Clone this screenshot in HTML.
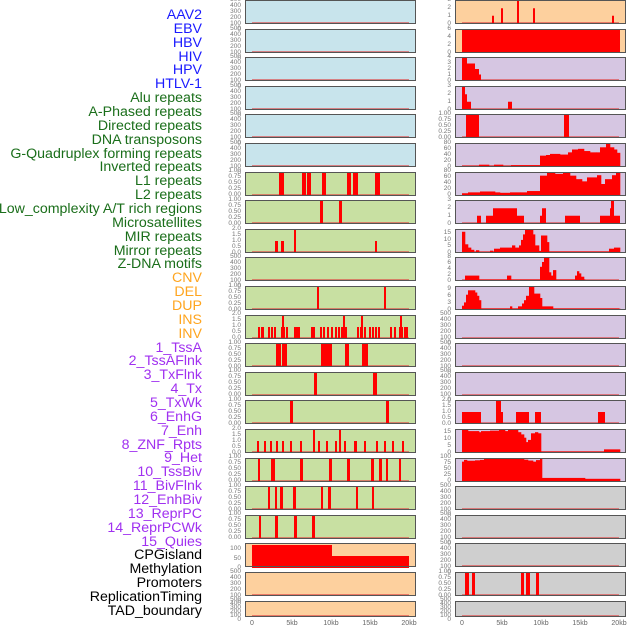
<!DOCTYPE html>
<html><head><meta charset="utf-8"><style>
body{margin:0;width:630px;height:630px;background:#fff;position:relative;overflow:hidden;font-family:"Liberation Sans",sans-serif}
.l{position:absolute;right:428px;font-size:14.2px;line-height:14px;white-space:nowrap}
.b{color:#1a1aff}.g{color:#1a6e1a}.o{color:#ffa51f}.p{color:#a030f0}.k{color:#000}
.t{position:absolute;width:40px;display:flex;flex-direction:column;justify-content:space-between;text-align:right;font-size:6.5px;line-height:6px;color:#777}
.x{position:absolute;top:620px;font-size:7px;color:#666;transform:translateX(-50%)}
svg{position:absolute;left:0;top:0}
</style></head><body>
<div class="l b" style="top:8px">AAV2</div>
<div class="l b" style="top:22px">EBV</div>
<div class="l b" style="top:36px">HBV</div>
<div class="l b" style="top:50px">HIV</div>
<div class="l b" style="top:63px">HPV</div>
<div class="l b" style="top:77px">HTLV-1</div>
<div class="l g" style="top:91px">Alu repeats</div>
<div class="l g" style="top:105px">A-Phased repeats</div>
<div class="l g" style="top:119px">Directed repeats</div>
<div class="l g" style="top:133px">DNA transposons</div>
<div class="l g" style="top:147px">G-Quadruplex forming repeats</div>
<div class="l g" style="top:160px">Inverted repeats</div>
<div class="l g" style="top:174px">L1 repeats</div>
<div class="l g" style="top:188px">L2 repeats</div>
<div class="l g" style="top:202px">Low_complexity A/T rich regions</div>
<div class="l g" style="top:216px">Microsatellites</div>
<div class="l g" style="top:230px">MIR repeats</div>
<div class="l g" style="top:244px">Mirror repeats</div>
<div class="l g" style="top:257px">Z-DNA motifs</div>
<div class="l o" style="top:271px">CNV</div>
<div class="l o" style="top:285px">DEL</div>
<div class="l o" style="top:299px">DUP</div>
<div class="l o" style="top:313px">INS</div>
<div class="l o" style="top:327px">INV</div>
<div class="l p" style="top:341px">1_TssA</div>
<div class="l p" style="top:354px">2_TssAFlnk</div>
<div class="l p" style="top:368px">3_TxFlnk</div>
<div class="l p" style="top:382px">4_Tx</div>
<div class="l p" style="top:396px">5_TxWk</div>
<div class="l p" style="top:410px">6_EnhG</div>
<div class="l p" style="top:424px">7_Enh</div>
<div class="l p" style="top:438px">8_ZNF_Rpts</div>
<div class="l p" style="top:451px">9_Het</div>
<div class="l p" style="top:465px">10_TssBiv</div>
<div class="l p" style="top:479px">11_BivFlnk</div>
<div class="l p" style="top:493px">12_EnhBiv</div>
<div class="l p" style="top:507px">13_ReprPC</div>
<div class="l p" style="top:521px">14_ReprPCWk</div>
<div class="l p" style="top:535px">15_Quies</div>
<div class="l k" style="top:548px">CPGisland</div>
<div class="l k" style="top:562px">Methylation</div>
<div class="l k" style="top:576px">Promoters</div>
<div class="l k" style="top:590px">ReplicationTiming</div>
<div class="l k" style="top:604px">TAD_boundary</div>

<svg id="s" width="630" height="630"></svg>

<div class="t" style="left:201px;top:-3px;height:30px"><span>500</span><span>400</span><span>300</span><span>200</span><span>100</span><span>0</span></div>
<div class="t" style="left:201px;top:26px;height:30px"><span>500</span><span>400</span><span>300</span><span>200</span><span>100</span><span>0</span></div>
<div class="t" style="left:201px;top:54px;height:30px"><span>500</span><span>400</span><span>300</span><span>200</span><span>100</span><span>0</span></div>
<div class="t" style="left:201px;top:83px;height:30px"><span>500</span><span>400</span><span>300</span><span>200</span><span>100</span><span>0</span></div>
<div class="t" style="left:201px;top:111px;height:30px"><span>500</span><span>400</span><span>300</span><span>200</span><span>100</span><span>0</span></div>
<div class="t" style="left:201px;top:140px;height:30px"><span>500</span><span>400</span><span>300</span><span>200</span><span>100</span><span>0</span></div>
<div class="t" style="left:201px;top:168px;height:30px"><span>1.00</span><span>0.75</span><span>0.50</span><span>0.25</span><span>0.00</span></div>
<div class="t" style="left:201px;top:197px;height:30px"><span>1.00</span><span>0.75</span><span>0.50</span><span>0.25</span><span>0.00</span></div>
<div class="t" style="left:201px;top:226px;height:30px"><span>2.0</span><span>1.5</span><span>1.0</span><span>0.5</span><span>0.0</span></div>
<div class="t" style="left:201px;top:254px;height:30px"><span>500</span><span>400</span><span>300</span><span>200</span><span>100</span><span>0</span></div>
<div class="t" style="left:201px;top:283px;height:30px"><span>1.00</span><span>0.75</span><span>0.50</span><span>0.25</span><span>0.00</span></div>
<div class="t" style="left:201px;top:311px;height:30px"><span>2.0</span><span>1.5</span><span>1.0</span><span>0.5</span><span>0.0</span></div>
<div class="t" style="left:201px;top:340px;height:30px"><span>1.00</span><span>0.75</span><span>0.50</span><span>0.25</span><span>0.00</span></div>
<div class="t" style="left:201px;top:368px;height:30px"><span>1.00</span><span>0.75</span><span>0.50</span><span>0.25</span><span>0.00</span></div>
<div class="t" style="left:201px;top:397px;height:30px"><span>1.00</span><span>0.75</span><span>0.50</span><span>0.25</span><span>0.00</span></div>
<div class="t" style="left:201px;top:426px;height:30px"><span>2.0</span><span>1.5</span><span>1.0</span><span>0.5</span><span>0.0</span></div>
<div class="t" style="left:201px;top:454px;height:30px"><span>1.00</span><span>0.75</span><span>0.50</span><span>0.25</span><span>0.00</span></div>
<div class="t" style="left:201px;top:483px;height:30px"><span>1.00</span><span>0.75</span><span>0.50</span><span>0.25</span><span>0.00</span></div>
<div class="t" style="left:201px;top:511px;height:30px"><span>1.00</span><span>0.75</span><span>0.50</span><span>0.25</span><span>0.00</span></div>
<div class="t" style="left:201px;top:546px;height:25px"><span>100</span><span>50</span><span>0</span></div>
<div class="t" style="left:201px;top:569px;height:30px"><span>500</span><span>400</span><span>300</span><span>200</span><span>100</span><span>0</span></div>
<div class="t" style="left:201px;top:598px;height:20px;line-height:4px"><span>500</span><span>400</span><span>300</span><span>200</span><span>100</span><span>0</span></div>
<div class="t" style="left:411px;top:-3px;height:30px"><span>3</span><span>2</span><span>1</span><span>0</span></div>
<div class="t" style="left:411px;top:26px;height:30px"><span>6</span><span>4</span><span>2</span><span>0</span></div>
<div class="t" style="left:411px;top:54px;height:30px"><span>4</span><span>3</span><span>2</span><span>1</span><span>0</span></div>
<div class="t" style="left:411px;top:83px;height:30px"><span>3</span><span>2</span><span>1</span><span>0</span></div>
<div class="t" style="left:411px;top:111px;height:30px"><span>1.00</span><span>0.75</span><span>0.50</span><span>0.25</span><span>0.00</span></div>
<div class="t" style="left:411px;top:140px;height:30px"><span>80</span><span>60</span><span>40</span><span>20</span><span>0</span></div>
<div class="t" style="left:411px;top:168px;height:30px"><span>80</span><span>60</span><span>40</span><span>20</span><span>0</span></div>
<div class="t" style="left:411px;top:197px;height:30px"><span>3</span><span>2</span><span>1</span><span>0</span></div>
<div class="t" style="left:411px;top:230px;height:26px"><span>15</span><span>10</span><span>5</span><span>0</span></div>
<div class="t" style="left:411px;top:254px;height:30px"><span>8</span><span>6</span><span>4</span><span>2</span><span>0</span></div>
<div class="t" style="left:411px;top:286px;height:27px"><span>9</span><span>6</span><span>3</span><span>0</span></div>
<div class="t" style="left:411px;top:311px;height:30px"><span>500</span><span>400</span><span>300</span><span>200</span><span>100</span><span>0</span></div>
<div class="t" style="left:411px;top:340px;height:30px"><span>500</span><span>400</span><span>300</span><span>200</span><span>100</span><span>0</span></div>
<div class="t" style="left:411px;top:368px;height:30px"><span>500</span><span>400</span><span>300</span><span>200</span><span>100</span><span>0</span></div>
<div class="t" style="left:411px;top:397px;height:30px"><span>2.0</span><span>1.5</span><span>1.0</span><span>0.5</span><span>0.0</span></div>
<div class="t" style="left:411px;top:429px;height:27px"><span>15</span><span>10</span><span>5</span><span>0</span></div>
<div class="t" style="left:411px;top:454px;height:30px"><span>100</span><span>75</span><span>50</span><span>25</span><span>0</span></div>
<div class="t" style="left:411px;top:483px;height:30px"><span>500</span><span>400</span><span>300</span><span>200</span><span>100</span><span>0</span></div>
<div class="t" style="left:411px;top:511px;height:30px"><span>500</span><span>400</span><span>300</span><span>200</span><span>100</span><span>0</span></div>
<div class="t" style="left:411px;top:540px;height:30px"><span>500</span><span>400</span><span>300</span><span>200</span><span>100</span><span>0</span></div>
<div class="t" style="left:411px;top:569px;height:30px"><span>1.00</span><span>0.75</span><span>0.50</span><span>0.25</span><span>0.00</span></div>
<div class="t" style="left:411px;top:598px;height:20px;line-height:4px"><span>500</span><span>400</span><span>300</span><span>200</span><span>100</span><span>0</span></div>

<div class="x" style="left:252px">0</div><div class="x" style="left:292px">5kb</div><div class="x" style="left:331px">10kb</div><div class="x" style="left:370px">15kb</div><div class="x" style="left:409px">20kb</div>
<div class="x" style="left:462px">0</div><div class="x" style="left:502px">5kb</div><div class="x" style="left:541px">10kb</div><div class="x" style="left:580px">15kb</div><div class="x" style="left:619px">20kb</div>

<script>
var s=document.getElementById('s'),NS='http://www.w3.org/2000/svg';
function R(x,y,w,h,f,o){var r=document.createElementNS(NS,'rect');r.setAttribute('x',x);r.setAttribute('y',y);r.setAttribute('width',w);r.setAttribute('height',h);r.setAttribute('fill',f);if(o)r.setAttribute('opacity',o);s.appendChild(r);}
var tops=[],B='#c8e4ec',G='#c8e0a2',O='#fdd09e',P='#d6c6e2',Y='#cfcfcf';
for(var i=0;i<22;i++)tops.push(Math.round(i*28.6));
function H(i){return i==21?16:24;}
function bg(i,L){if(L)return i<6?B:i<19?G:O;return i<2?O:i<17?P:Y;}
for(var i=0;i<22;i++){[245,455].forEach(function(x,k){R(x,tops[i],171,H(i),bg(i,k==0));});}
function bars(i,side,list){var t=tops[i]+1,h=H(i)-2;list.forEach(function(b){var hh=h*b[2];R(b[0],t+h-hh,b[1]-b[0],hh,'#ff0000');});}
function base(i,side){var x=side?462:252;R(x,tops[i]+H(i)-2,157,1.2,'#e04040',0.6);}
for(var i=0;i<22;i++){base(i,0);if(i!=1)base(i,1);}
bars(6,0,[[279,284,1],[302,306,1],[307,311,1],[322,326,1],[347,351,1],[353,358,1],[375,380,1]]);
bars(7,0,[[320,323,1],[339,342,1]]);
bars(8,0,[[275,278,.5],[281,284,.5],[294,296,1],[375,377,.5]]);
bars(10,0,[[317,319,1],[384,386,1]]);
var d=[258,261,262,268,271,274,281,283,286,294,296,298,311,313,320,323,327,331,335,338,341,345,357,360,364,369,372,375,378,390,394,399,401,404,406];
bars(11,0,d.map(function(x){return [x,x+2,.5]}).concat([[282,284,1],[343,345,1],[361,363,1],[400,402,1]]));
bars(12,0,[[276,281,1],[282,287,1],[321,332,1],[345,349,1],[362,368,1]]);
bars(13,0,[[314,317,1],[373,377,1]]);
bars(14,0,[[290,293,1],[386,389,1]]);
var e=[257,264,270,276,282,290,300,318,326,335,344,355,364,376,384,392,402];
bars(15,0,e.map(function(x){return [x,x+2,.5]}).concat([[313,315,1],[339,341,1],[354,356,.5]]));
bars(16,0,[[258,260,1],[271,275,1],[300,303,1],[329,332,1],[347,350,1],[371,374,1],[379,382,1],[386,388,1],[399,401,1]]);
bars(17,0,[[268,270,1],[275,277,1],[280,283,1],[293,296,1],[321,323,1],[328,331,1],[356,358,1],[372,374,1]]);
bars(18,0,[[259,261,1],[275,278,1],[294,297,1],[312,315,1]]);
R(252,545,80,23,'#ff0000');R(332,556,77,12,'#ff0000');
bars(0,1,[[492,494,.33],[501,503,.67],[517,519,1],[533,535,.67],[612,614,.33]]);
R(462,29,158,24,'#ff0000');
bars(2,1,[[462,467,1],[467,475,.75],[475,479,.5],[479,481,.25]]);
bars(3,1,[[462,465,1],[465,467,.67],[467,471,.33],[508,512,.33]]);
bars(4,1,[[466,479,1],[564,569,1]]);
function prof(i,pts){var t=tops[i]+1,h=H(i)-2;for(var k=0;k<pts.length-1;k++){var hh=h*pts[k][1];R(pts[k][0],t+h-hh,pts[k+1][0]-pts[k][0]+.3,hh,'#ff0000');}}
prof(5,[[462,.01],[479,.06],[489,.01],[494,.06],[503,.01],[511,.04],[540,.47],[546,.5],[550,.55],[560,.52],[568,.62],[572,.75],[578,.78],[584,.68],[590,.62],[596,.62],[600,.85],[606,1],[610,.85],[614,.75],[617,.6],[620,.6]]);
prof(6,[[462,.08],[468,.12],[480,.16],[495,.12],[500,.1],[510,.12],[520,.12],[527,.18],[540,.88],[547,1],[555,.96],[563,1],[570,.88],[576,.72],[582,.62],[587,.8],[597,.9],[601,.5],[605,.72],[612,.9],[616,1],[620,1]]);
bars(7,1,[[477,481,.33],[486,493,.33],[493,517,.67],[517,524,.33],[540,546,.33],[542,546,.67],[565,580,.33],[600,610,.33],[610,614,.67],[611,614,1],[614,620,.33]]);
prof(8,[[462,.92],[465,.35],[468,.2],[471,.1],[474,.01],[476,.08],[479,.01],[490,.06],[493,.01],[494,.15],[500,.2],[510,.2],[512,.3],[515,.2],[519,.3],[521,.55],[523,.8],[525,1],[533,.8],[535,.3],[539,.05],[541,.75],[547,.45],[549,.02],[609,.15],[614,.2],[620,.2]]);
prof(9,[[465,.2],[479,.02],[507,.2],[511,.02],[540,.6],[542,.82],[544,1],[549,.35],[551,.2],[553,.45],[556,.02],[575,.2],[577,.4],[579,.3],[581,.15],[584,.02],[585,.02]]);
prof(10,[[462,.15],[464,.3],[466,.65],[468,.85],[475,.75],[477,.6],[479,.4],[481,.02],[510,.12],[512,.02],[518,.12],[522,.25],[524,.4],[526,.6],[529,1],[534,.7],[540,.5],[542,.12],[553,.02],[620,.01]]);
bars(14,1,[[462,481,.5],[496,501,1],[501,503,.5],[516,529,.5],[535,541,.5],[598,605,.5]]);
prof(15,[[462,1],[468,.95],[477,.95],[479,.9],[481,.95],[490,.97],[499,1],[505,.95],[508,1],[518,.9],[521,.8],[524,.65],[526,.45],[528,.55],[531,.85],[535,.9],[538,.85],[541,.02],[604,.12],[620,.12]]);
prof(16,[[462,.88],[464,.96],[467,.92],[475,.94],[480,.96],[484,1],[500,1],[512,1],[518,1],[524,.97],[528,.93],[533,.88],[536,.95],[540,1],[542,.14],[585,.1],[620,.1]]);
bars(20,1,[[465,469,1],[472,475,1],[521,524,1],[526,530,1],[536,539,1]]);
for(var i=0;i<22;i++){[245,455].forEach(function(x){var r=document.createElementNS(NS,'rect');r.setAttribute('x',x+.5);r.setAttribute('y',tops[i]+.5);r.setAttribute('width',170);r.setAttribute('height',H(i)-1);r.setAttribute('fill','none');r.setAttribute('stroke','#555');r.setAttribute('stroke-width','1');s.appendChild(r);});}
</script>
</body></html>
